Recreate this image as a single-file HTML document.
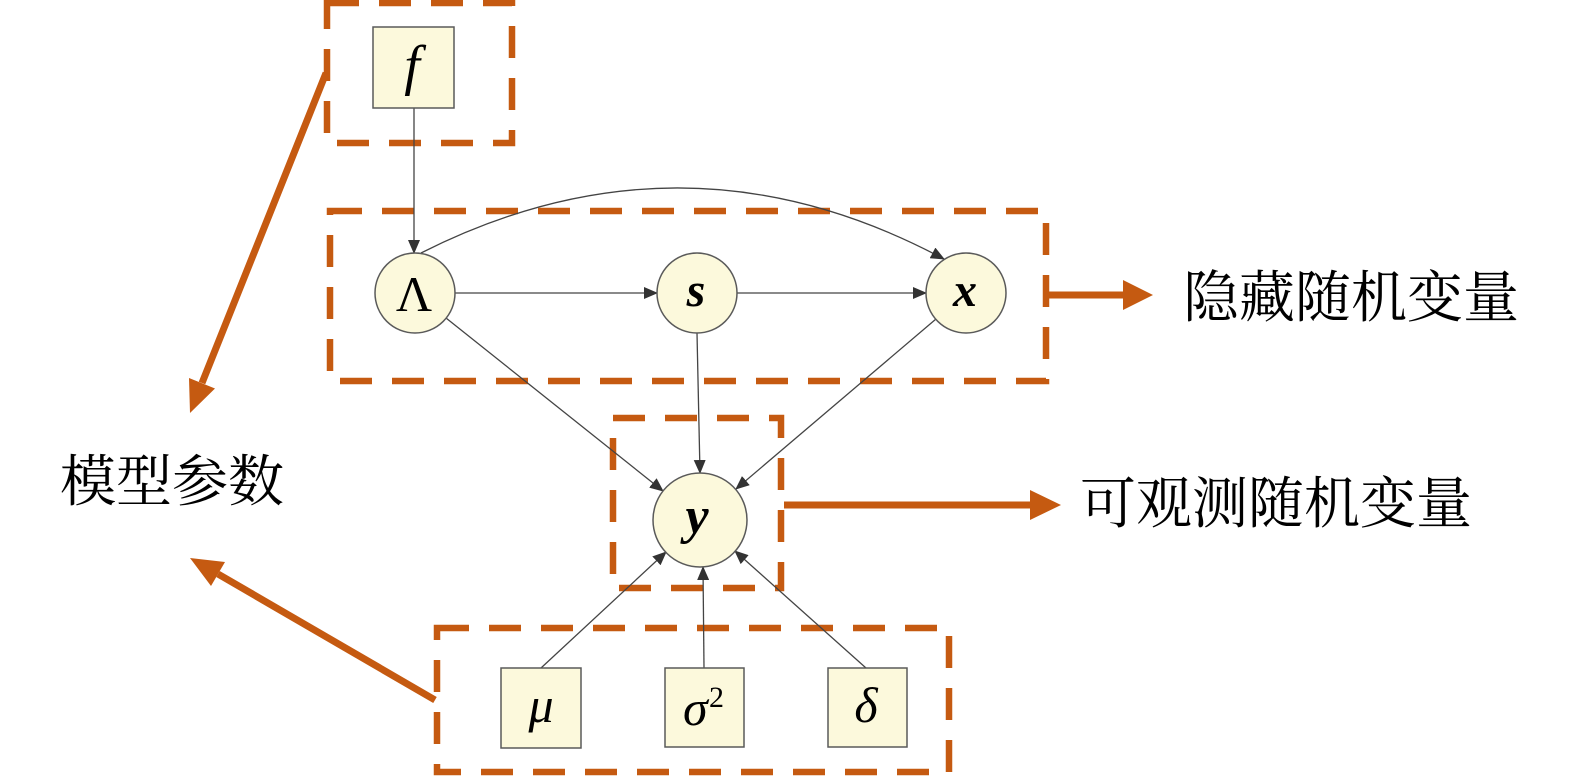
<!DOCTYPE html>
<html>
<head>
<meta charset="utf-8">
<style>
  html,body{margin:0;padding:0;background:#fff;}
  svg{display:block;}
  .cjk{font-family:"Noto Serif CJK SC","Liberation Serif",serif;font-size:56px;fill:#000;}
  .m{font-family:"Liberation Serif","DejaVu Serif",serif;fill:#000;}
</style>
</head>
<body>
<svg width="1575" height="780" viewBox="0 0 1575 780" xmlns="http://www.w3.org/2000/svg">
  <defs>
    <marker id="ah" markerUnits="userSpaceOnUse" markerWidth="14" markerHeight="12" refX="13" refY="6" orient="auto">
      <path d="M0,0 L14,6 L0,12 z" fill="#333"/>
    </marker>
  </defs>

  <!-- dashed orange boxes -->
  <g fill="none" stroke="#c55a11" stroke-width="6.5" stroke-dasharray="32 20">
    <rect x="327" y="3" width="185" height="140"/>
    <rect x="330" y="211" width="716" height="170"/>
    <rect x="613" y="418" width="168" height="170"/>
    <rect x="437" y="628" width="512" height="144"/>
  </g>

  <!-- thin edges -->
  <g stroke="#444" stroke-width="1.3" fill="none" marker-end="url(#ah)">
    <line x1="414" y1="108" x2="414" y2="253"/>
    <line x1="455" y1="293" x2="657" y2="293"/>
    <line x1="737" y1="293" x2="926" y2="293"/>
    <path d="M421,253 Q684,120 944,259"/>
    <line x1="446" y1="318" x2="663" y2="491"/>
    <line x1="697" y1="333" x2="700" y2="473"/>
    <line x1="936" y1="319" x2="736" y2="489"/>
    <line x1="541" y1="668" x2="666" y2="552"/>
    <line x1="704" y1="668" x2="703" y2="567"/>
    <line x1="866" y1="668" x2="735" y2="551"/>
  </g>

  <!-- nodes -->
  <g fill="#fcf9dc" stroke="#5a5a5a" stroke-width="1.5">
    <rect x="373" y="27" width="81" height="81"/>
    <circle cx="415" cy="293" r="40"/>
    <circle cx="697" cy="293" r="40"/>
    <circle cx="966" cy="293" r="40"/>
    <circle cx="700" cy="520" r="47"/>
    <rect x="501" y="668" width="80" height="80"/>
    <rect x="665" y="668" width="79" height="79"/>
    <rect x="828" y="668" width="79" height="79"/>
  </g>

  <!-- math labels -->
  <text class="m" x="412" y="84" font-size="56" font-style="italic" text-anchor="middle">f</text>
  <text class="m" x="414" y="311" font-size="50" text-anchor="middle">Λ</text>
  <text class="m" x="696" y="306" font-size="48" font-style="italic" font-weight="bold" text-anchor="middle">s</text>
  <text class="m" x="965" y="306" font-size="48" font-style="italic" font-weight="bold" text-anchor="middle">x</text>
  <text class="m" x="697" y="533" font-size="52" font-style="italic" font-weight="bold" text-anchor="middle">y</text>
  <text class="m" x="541" y="722" font-size="50" font-style="italic" text-anchor="middle">μ</text>
  <text class="m" x="683" y="725" font-size="50" font-style="italic">σ</text>
  <text class="m" x="709" y="707" font-size="30">2</text>
  <text class="m" x="866" y="722" font-size="50" font-style="italic" text-anchor="middle">δ</text>

  <!-- orange callout arrows -->
  <g stroke="#c55a11" stroke-width="7" fill="none">
    <line x1="326" y1="73" x2="202" y2="383"/>
    <line x1="435" y1="700" x2="218" y2="574"/>
    <line x1="1046" y1="295" x2="1125" y2="295"/>
    <line x1="784" y1="505" x2="1032" y2="505"/>
  </g>
  <g fill="#c55a11">
    <polygon points="190,413 215,388.5 189,378"/>
    <polygon points="190,558 225,562 211,586"/>
    <polygon points="1123,280 1153,295 1123,310"/>
    <polygon points="1030,490 1061,505 1030,520"/>
  </g>

  <!-- CJK labels -->
  <text class="cjk" x="1183" y="294" dominant-baseline="central">隐藏随机变量</text>
  <text class="cjk" x="1080" y="500" dominant-baseline="central">可观测随机变量</text>
  <text class="cjk" x="60" y="478" dominant-baseline="central">模型参数</text>
</svg>
</body>
</html>
